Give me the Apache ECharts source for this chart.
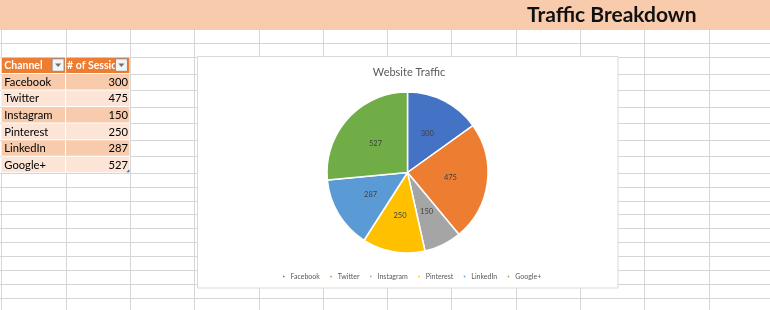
<!DOCTYPE html>
<html>
<head>
<meta charset="utf-8">
<style>
  html, body { margin: 0; padding: 0; background: #fff; }
  #chart { width: 770px; height: 310px; }
</style>
<script src="https://cdn.jsdelivr.net/npm/echarts@6/dist/echarts.min.js"></script>
</head>
<body>
<div id="chart"></div>
<script>
// Sheet content
const sheetTitle = 'Traffic Breakdown';
const tableHeaders = ['Channel', '# of Sessions'];
const channels = ['Facebook', 'Twitter', 'Instagram', 'Pinterest', 'LinkedIn', 'Google+'];
const sessions = [300, 475, 150, 250, 287, 527];
const chartTitle = 'Website Traffic';
const sliceColors = ['#4472c4', '#ed7d31', '#a5a5a5', '#ffc000', '#5b9bd5', '#70ad47'];

const FONT = 'Lato, "Open Sans", sans-serif';

// Worksheet grid geometry
const colX0 = 1.3, colW = 64.3;
const bannerH = 29.3;
const tableTop = 57, tableRowH = 16.53, tableRows = channels.length + 1;
const plainRowH = 13.9;

const colXs = [];
for (let x = colX0; x < 775; x += colW) colXs.push(x);
const rowYs = [bannerH, 42.7];
for (let i = 0; i <= tableRows; i++) rowYs.push(tableTop + i * tableRowH);
const tableBottom = tableTop + tableRows * tableRowH;
for (let y = tableBottom + plainRowH; y < 315; y += plainRowH) rowYs.push(y);

const px = v => Math.round(v) + 0.5;
const graphics = [];

// grid lines
colXs.forEach(x => graphics.push({
  type: 'line', z: 0, z2: 0, silent: true,
  shape: { x1: px(x), y1: bannerH, x2: px(x), y2: 310 },
  style: { stroke: '#d6d6d6', lineWidth: 1 }
}));
rowYs.forEach(y => graphics.push({
  type: 'line', z: 0, z2: 0, silent: true,
  shape: { x1: 0, y1: px(y), x2: 770, y2: px(y) },
  style: { stroke: '#d6d6d6', lineWidth: 1 }
}));

// title banner
graphics.push({
  type: 'rect', z: 0, z2: 1, silent: true,
  shape: { x: 0, y: 0, width: 770, height: bannerH },
  style: { fill: '#f8cbad' }
});
graphics.push({
  type: 'text', z: 0, z2: 3, silent: true,
  style: { x: 527, y: 15, text: sheetTitle, fill: '#111', font: 'bold 21px ' + FONT,
           align: 'left', verticalAlign: 'middle' }
});

// table
const tX = colXs[0], tW1 = colW, tW2 = colXs[2] - colXs[1];
graphics.push({
  type: 'rect', z: 0, z2: 1, silent: true,
  shape: { x: tX, y: tableTop, width: tW1 + tW2, height: tableRows * tableRowH },
  style: { fill: '#fff' }
});
for (let r = 0; r < tableRows; r++) {
  const y = tableTop + r * tableRowH;
  const fill = r === 0 ? '#ed7d31' : (r % 2 === 1 ? '#f8cbad' : '#fce4d6');
  [[tX, tW1], [tX + tW1, tW2]].forEach(([x, w]) => graphics.push({
    type: 'rect', z: 0, z2: 1, silent: true,
    shape: { x: x + 0.5, y: y + 0.5, width: w - 1, height: tableRowH - 1 },
    style: { fill }
  }));
}
// header labels and filter buttons
graphics.push({
  type: 'text', z: 0, z2: 3, silent: true,
  style: { x: tX + 3, y: tableTop + tableRowH / 2 + 0.5, text: tableHeaders[0], fill: '#fff',
           font: 'bold 10.5px ' + FONT, align: 'left', verticalAlign: 'middle' }
});
graphics.push({
  type: 'text', z: 0, z2: 3, silent: true,
  style: { x: tX + tW1 + 1.5, y: tableTop + tableRowH / 2 + 0.5, text: tableHeaders[1], fill: '#fff',
           font: 'bold 10.5px ' + FONT, align: 'left', verticalAlign: 'middle',
           width: 57, overflow: 'truncate', ellipsis: '' }
});
[tX + tW1 - 13.5, tX + tW1 + tW2 - 14.5].forEach(bx => {
  const by = tableTop + 1.8;
  graphics.push({
    type: 'rect', z: 0, z2: 4, silent: true,
    shape: { x: bx, y: by, width: 12, height: 12.5 },
    style: { fill: '#f4f4f4', stroke: '#8a8a8a', lineWidth: 1 }
  });
  graphics.push({
    type: 'polygon', z: 0, z2: 5, silent: true,
    shape: { points: [[bx + 3, by + 4.8], [bx + 9, by + 4.8], [bx + 6, by + 8.3]] },
    style: { fill: '#6e6e6e' }
  });
});
// body rows
channels.forEach((name, i) => {
  const cy = tableTop + (i + 1.5) * tableRowH + 0.5;
  graphics.push({
    type: 'text', z: 0, z2: 3, silent: true,
    style: { x: tX + 3, y: cy, text: name, fill: '#000', font: '11.2px ' + FONT,
             align: 'left', verticalAlign: 'middle' }
  });
  graphics.push({
    type: 'text', z: 0, z2: 3, silent: true,
    style: { x: tX + tW1 + tW2 - 2, y: cy, text: String(sessions[i]), fill: '#000', font: '11.2px ' + FONT,
             align: 'right', verticalAlign: 'middle' }
  });
});
// table resize handle
const hx = tX + tW1 + tW2, hy = tableBottom;
graphics.push({
  type: 'polygon', z: 0, z2: 5, silent: true,
  shape: { points: [[hx - 0.5, hy - 3.5], [hx - 0.5, hy - 0.5], [hx - 3.5, hy - 0.5]] },
  style: { fill: '#2f6eba' }
});

// chart area
graphics.push({
  type: 'rect', z: 1, z2: 0, silent: true,
  shape: { x: 197.5, y: 56.5, width: 420.5, height: 231.5 },
  style: { fill: '#fff', stroke: '#d9d9d9', lineWidth: 1 }
});

const chart = echarts.init(document.getElementById('chart'), null, { renderer: 'canvas' });
chart.setOption({
  backgroundColor: '#fff',
  animation: false,
  color: sliceColors,
  title: {
    text: chartTitle,
    left: 404, top: 62, textAlign: 'center',
    textStyle: { fontFamily: FONT, fontSize: 11, fontWeight: 'normal', color: '#595959' }
  },
  legend: {
    data: channels,
    left: 276, top: 268,
    icon: 'rect', itemWidth: 3.5, itemHeight: 3.5, itemGap: 8.5,
    textStyle: { fontFamily: FONT, fontSize: 7, color: '#595959' }
  },
  graphic: graphics,
  series: [{
    type: 'pie',
    center: [407.5, 172.5],
    radius: 80.5,
    startAngle: 90,
    clockwise: true,
    itemStyle: { borderColor: '#fff', borderWidth: 1.5 },
    label: { show: true, position: 'inside', formatter: '{c}', fontFamily: FONT, fontSize: 7.5, color: '#404040' },
    labelLine: { show: false },
    emphasis: { disabled: true },
    data: channels.map((name, i) => ({ name, value: sessions[i] }))
  }]
});
</script>
</body>
</html>
